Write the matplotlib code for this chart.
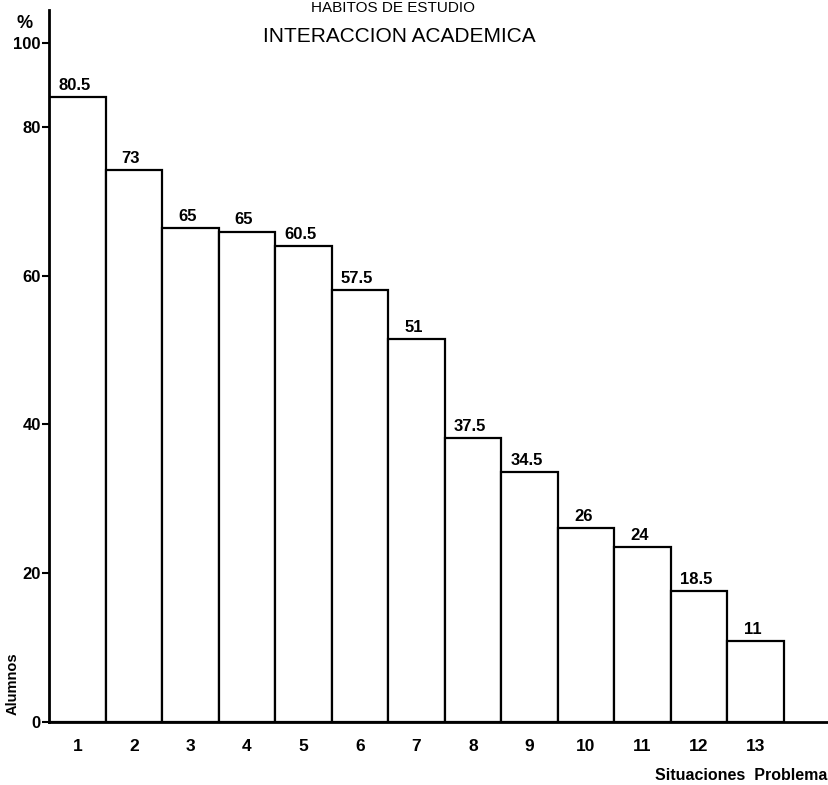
import numpy as np
import matplotlib
matplotlib.use("Agg")
from matplotlib import pyplot as plt

# datos
situaciones = list(range(1, 14))
etiquetas = ['80.5', '73', '65', '65', '60.5', '57.5', '51',
             '37.5', '34.5', '26', '24', '18.5', '11']
# altura de las barras leida contra el eje dibujado (%)
alumnos_pct = [87.1, 74.2, 66.4, 65.9, 63.9, 58.0, 51.5,
               38.2, 33.6, 26.1, 23.5, 17.6, 10.9]
yticks = [0, 20, 40, 60, 80, 100]


# el eje original esta comprimido entre 80 y 100
def forward(y):
    y = np.asarray(y, dtype=float)
    return np.where(y <= 80, y, 80 + (y - 80) * 0.56)


def inverse(v):
    v = np.asarray(v, dtype=float)
    return np.where(v <= 80, v, 80 + (v - 80) / 0.56)


plt.rcParams['font.family'] = ['Liberation Sans', 'DejaVu Sans']

fig = plt.figure(figsize=(8.29, 7.85), dpi=100)
ax = fig.add_axes([49 / 829, 63 / 785, 1 - 49 / 829, 712 / 785])

ax.bar(situaciones, alumnos_pct, width=1.0, color='white',
       edgecolor='black', linewidth=1.6)

for x, h, t in zip(situaciones, alumnos_pct, etiquetas):
    ax.annotate(t, (x - 0.05, h), xytext=(0, 3), textcoords='offset points',
                ha='center', va='bottom', fontsize=12, fontweight='bold')

ax.set_yscale('function', functions=(forward, inverse))
ax.set_ylim(0, 108)
ax.set_xlim(0.5, 14.3)

ax.set_yticks(yticks)
ax.set_yticklabels([str(v) for v in yticks], fontsize=12, fontweight='bold')
ax.set_xticks(situaciones)
ax.set_xticklabels([str(s) for s in situaciones], fontsize=12.5, fontweight='bold')
ax.tick_params(axis='y', direction='out', length=5, width=1.5, pad=1)
ax.tick_params(axis='x', length=0, pad=12)
ax.yaxis.set_minor_locator(matplotlib.ticker.NullLocator())

for s in ['top', 'right']:
    ax.spines[s].set_visible(False)
for s in ['left', 'bottom']:
    ax.spines[s].set_linewidth(2)

fig.text(25 / 829, 1 - 23 / 785, '%', ha='center', va='center',
         fontsize=13, fontweight='bold')
fig.text(13 / 829, 1 - 684 / 785, 'Alumnos', rotation=90, ha='center',
         va='center', fontsize=10.5, fontweight='bold')
fig.text(1 - 2 / 829, 1 - 775 / 785, 'Situaciones  Problema', ha='right',
         va='center', fontsize=11.5, fontweight='bold')
fig.text(399 / 829, 1 - 36 / 785, 'INTERACCION ACADEMICA', ha='center',
         va='center', fontsize=15)
fig.text(393 / 829, 1 - 1 / 785, 'HABITOS DE ESTUDIO', ha='center',
         va='top', fontsize=11)

fig.savefig('out.png', dpi=100)
